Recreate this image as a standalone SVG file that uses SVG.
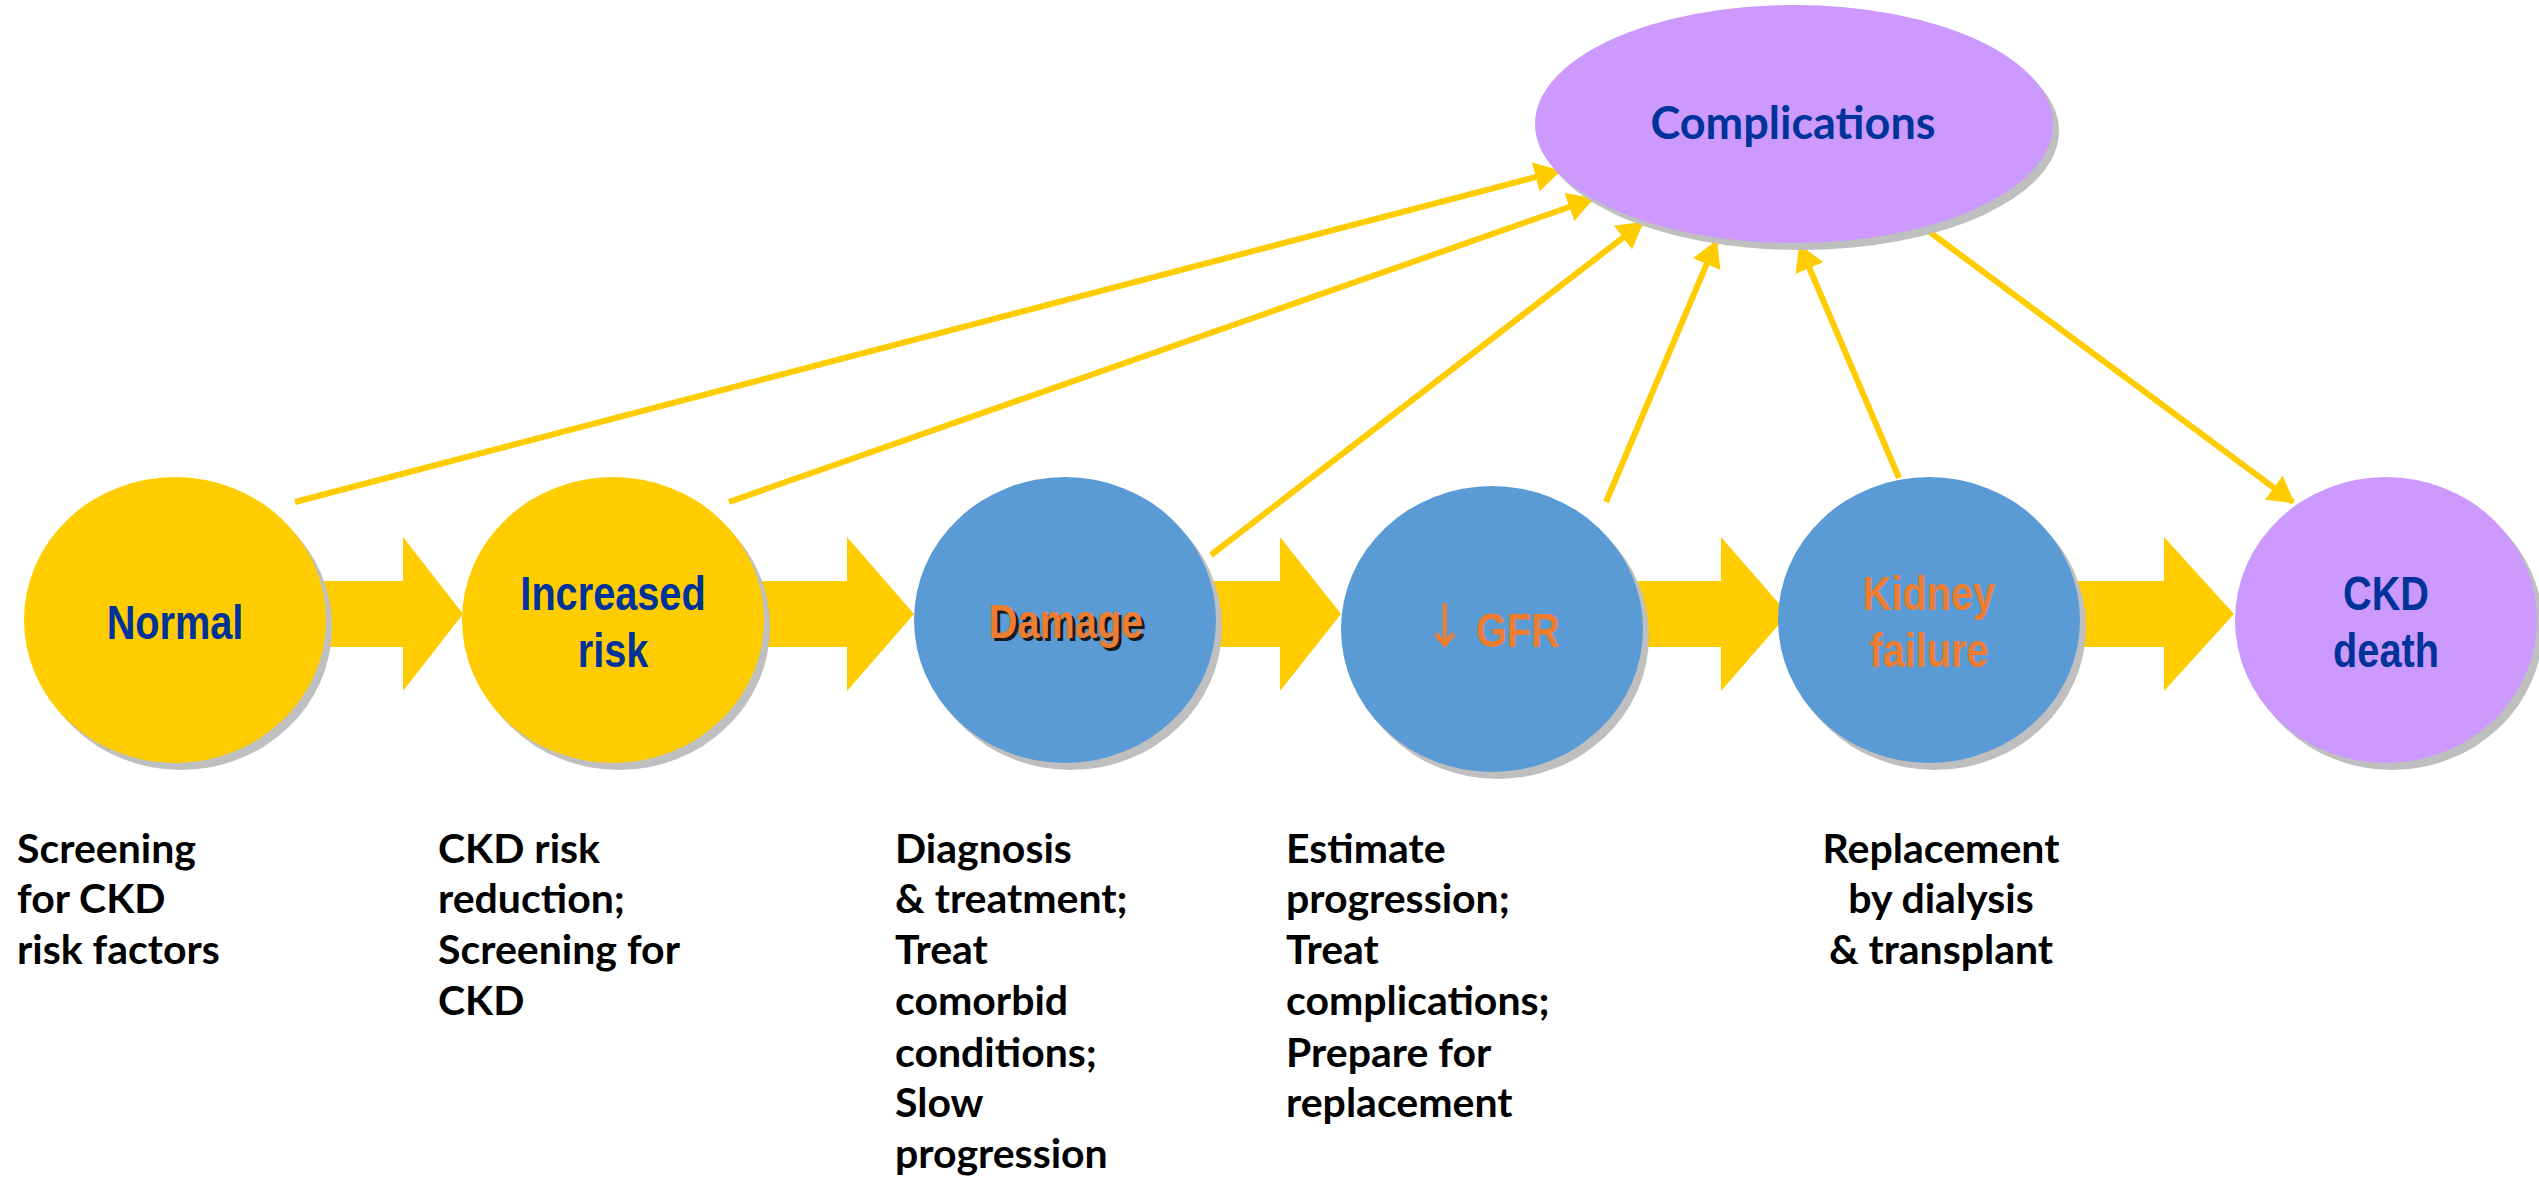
<svg xmlns="http://www.w3.org/2000/svg" width="2539" height="1178" viewBox="0 0 2539 1178">
<style>
.shadow{fill:#BFBFBF}
.yellow{fill:#FFCC00}
.blue{fill:#5B9BD5}
.purple{fill:#CC99FF}
.lbl{font-family:"Liberation Sans",Arial,sans-serif;font-weight:bold;font-size:49px;text-anchor:middle}
.navy{fill:#003399}
.orange{fill:#ED7D31}
.note{font-family:Lato,"Open Sans",sans-serif;font-weight:bold;font-size:41px;fill:#000}
.conn{stroke:#FFCC00;stroke-width:6;fill:none;marker-end:url(#ah)}
</style>
<defs>
<marker id="ah" markerUnits="userSpaceOnUse" markerWidth="26" markerHeight="30" refX="24" refY="15" orient="auto">
<path d="M0,0 L26,15 L0,30 Z" fill="#FFCC00"/>
</marker>
</defs>
<rect width="2539" height="1178" fill="#FFFFFF"/>
<g id="flow-arrows">
<path class="yellow" d="M300,581 H403 V537 L463,614 L403,691 V647 H300 Z"/>
<path class="yellow" d="M740,581 H847 V537 L914,614 L847,691 V647 H740 Z"/>
<path class="yellow" d="M1200,581 H1280 V537 L1341,614 L1280,691 V647 H1200 Z"/>
<path class="yellow" d="M1630,581 H1721 V537 L1788,614 L1721,691 V647 H1630 Z"/>
<path class="yellow" d="M2060,581 H2164 V537 L2234,614 L2164,691 V647 H2060 Z"/>
</g>
<g id="connectors">
<line class="conn" x1="295" y1="502" x2="1559" y2="171"/>
<line class="conn" x1="729" y1="502" x2="1592" y2="199"/>
<line class="conn" x1="1211" y1="555" x2="1642" y2="223"/>
<line class="conn" x1="1606" y1="502" x2="1716" y2="242"/>
<line class="conn" x1="1899" y1="478" x2="1800" y2="246"/>
<line class="conn" x1="1923" y1="227" x2="2293" y2="502"/>
</g>
<g id="complications">
<ellipse class="shadow" cx="1800" cy="131" rx="259" ry="119"/>
<ellipse class="purple" cx="1794" cy="124" rx="259" ry="119"/>
<text x="1793" y="139" font-family="Lato,'Open Sans',sans-serif" font-weight="bold" font-size="45" fill="#003399" text-anchor="middle">Complications</text>
</g>
<g id="normal">
<ellipse class="shadow" cx="181" cy="627" rx="151" ry="143"/>
<ellipse class="yellow" cx="175" cy="620" rx="151" ry="143"/>
<text class="lbl navy" transform="translate(175 0) scale(0.81 1)" x="0" y="639">Normal</text>
</g>
<g id="increased-risk">
<ellipse class="shadow" cx="619" cy="627" rx="151" ry="143"/>
<ellipse class="yellow" cx="613" cy="620" rx="151" ry="143"/>
<text class="lbl navy" transform="translate(613 0) scale(0.81 1)" x="0" y="610">Increased</text>
<text class="lbl navy" transform="translate(613 0) scale(0.81 1)" x="0" y="667">risk</text>
</g>
<g id="damage">
<ellipse class="shadow" cx="1071" cy="627" rx="151" ry="143"/>
<ellipse class="blue" cx="1065" cy="620" rx="151" ry="143"/>
<text class="lbl" transform="translate(1069 0) scale(0.81 1)" x="0" y="641" fill="#1a1a1a">Damage</text>
<text class="lbl orange" transform="translate(1066 0) scale(0.81 1)" x="0" y="638">Damage</text>
</g>
<g id="gfr">
<ellipse class="shadow" cx="1498" cy="636" rx="151" ry="143"/>
<ellipse class="blue" cx="1492" cy="629" rx="151" ry="143"/>
<text class="lbl orange" transform="translate(1492 0) scale(0.81 1)" x="0" y="647"><tspan font-family="'DejaVu Sans',sans-serif" font-weight="normal" font-size="60">↓</tspan> GFR</text>
</g>
<g id="kidney-failure">
<ellipse class="shadow" cx="1935" cy="627" rx="151" ry="143"/>
<ellipse class="blue" cx="1929" cy="620" rx="151" ry="143"/>
<text class="lbl orange" transform="translate(1929 0) scale(0.81 1)" x="0" y="610">Kidney</text>
<text class="lbl orange" transform="translate(1929 0) scale(0.81 1)" x="0" y="667">failure</text>
</g>
<g id="ckd-death">
<ellipse class="shadow" cx="2392" cy="627" rx="151" ry="143"/>
<ellipse class="purple" cx="2386" cy="620" rx="151" ry="143"/>
<text class="lbl navy" transform="translate(2386 0) scale(0.81 1)" x="0" y="610">CKD</text>
<text class="lbl navy" transform="translate(2386 0) scale(0.81 1)" x="0" y="667">death</text>
</g>
<g id="notes">
<text class="note" x="17" y="863">Screening</text>
<text class="note" x="17" y="913">for CKD</text>
<text class="note" x="17" y="964">risk factors</text>
<text class="note" x="438" y="863">CKD risk</text>
<text class="note" x="438" y="913">reduction;</text>
<text class="note" x="438" y="964">Screening for</text>
<text class="note" x="438" y="1015">CKD</text>
<text class="note" x="895" y="863">Diagnosis</text>
<text class="note" x="895" y="913">&amp; treatment;</text>
<text class="note" x="895" y="964">Treat</text>
<text class="note" x="895" y="1015">comorbid</text>
<text class="note" x="895" y="1067">conditions;</text>
<text class="note" x="895" y="1117">Slow</text>
<text class="note" x="895" y="1168">progression</text>
<text class="note" x="1286" y="863">Estimate</text>
<text class="note" x="1286" y="913">progression;</text>
<text class="note" x="1286" y="964">Treat</text>
<text class="note" x="1286" y="1015">complications;</text>
<text class="note" x="1286" y="1067">Prepare for</text>
<text class="note" x="1286" y="1117">replacement</text>
<text class="note" x="1941" y="863" text-anchor="middle">Replacement</text>
<text class="note" x="1941" y="913" text-anchor="middle">by dialysis</text>
<text class="note" x="1941" y="964" text-anchor="middle">&amp; transplant</text>
</g>
</svg>
